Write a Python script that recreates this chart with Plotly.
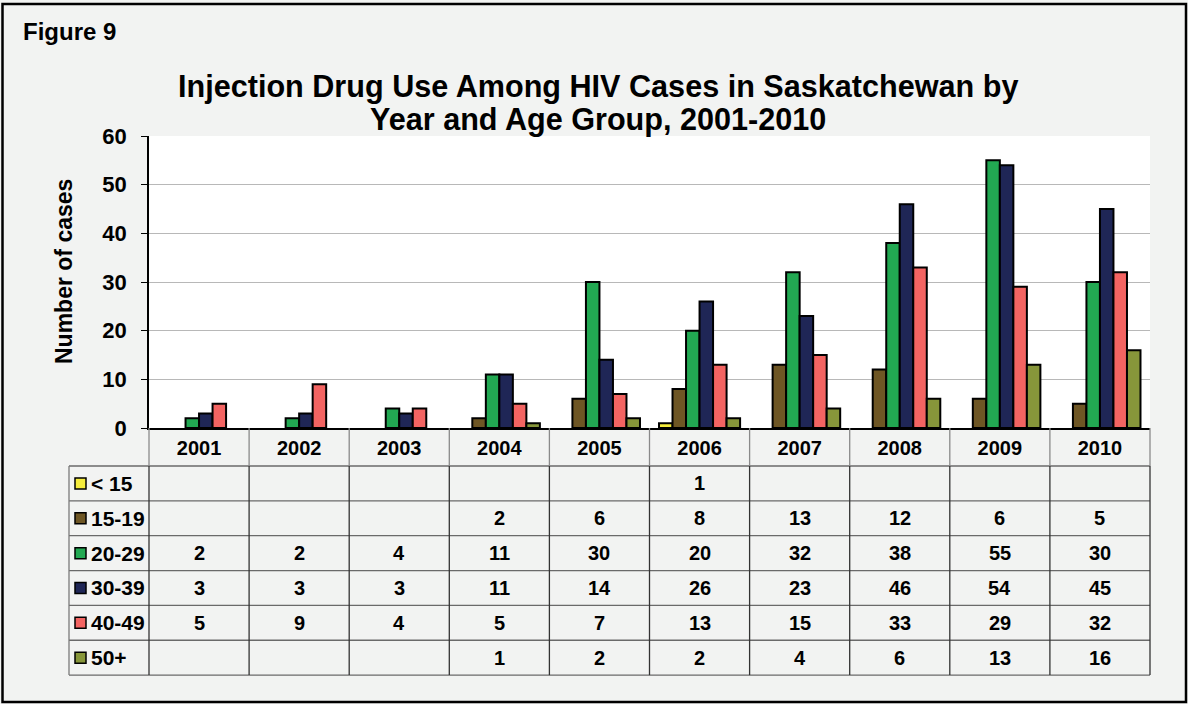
import plotly.graph_objects as go

# ---------------- data ----------------
years = ["2001", "2002", "2003", "2004", "2005", "2006", "2007", "2008", "2009", "2010"]
age_groups = ["< 15", "15-19", "20-29", "30-39", "40-49", "50+"]
lt15 = [None, None, None, None, None, 1, None, None, None, None]
a15_19 = [None, None, None, 2, 6, 8, 13, 12, 6, 5]
a20_29 = [2, 2, 4, 11, 30, 20, 32, 38, 55, 30]
a30_39 = [3, 3, 3, 11, 14, 26, 23, 46, 54, 45]
a40_49 = [5, 9, 4, 5, 7, 13, 15, 33, 29, 32]
a50p = [None, None, None, 1, 2, 2, 4, 6, 13, 16]
series = [lt15, a15_19, a20_29, a30_39, a40_49, a50p]
colors = ["#f5ec3c", "#6e5624", "#22a852", "#1f2656", "#f36462", "#87963a"]
y_ticks = [0, 10, 20, 30, 40, 50, 60]
title_lines = ["Injection Drug Use Among HIV Cases in Saskatchewan by",
               "Year and Age Group, 2001-2010"]

# ---------------- geometry helpers (pixels -> paper) ----------------
W, H = 1188, 704
L, R, T, B = 149, 1150, 136, 428
def px(x):
    return (x - L) / (R - L)
def py(y):
    return (B - y) / (B - T)

FONT = "Arial, 'Liberation Sans', sans-serif"

fig = go.Figure()
for name, vals, col in zip(age_groups, series, colors):
    fig.add_trace(go.Bar(
        x=years, y=vals, name=name,
        marker=dict(color=col, line=dict(color="black", width=2)),
        hoverinfo="skip",
    ))

shapes = []
annotations = []

# table geometry
row_top = 466
row_h = 34.85
n_rows = len(age_groups)
tab_left = 69
tab_bottom = row_top + row_h * n_rows
col_w = (R - L) / len(years)

# horizontal lines
for k in range(n_rows + 1):
    yy = row_top + row_h * k
    shapes.append(dict(type="line", xref="paper", yref="paper",
                       x0=px(tab_left), x1=px(R), y0=py(yy), y1=py(yy),
                       line=dict(color="#6a6a6a", width=1.3)))
# vertical lines
shapes.append(dict(type="line", xref="paper", yref="paper",
                   x0=px(tab_left), x1=px(tab_left), y0=py(row_top), y1=py(tab_bottom),
                   line=dict(color="#7a7a7a", width=1.3)))
for i in range(len(years) + 1):
    xx = L + col_w * i
    shapes.append(dict(type="line", xref="paper", yref="paper",
                       x0=px(xx), x1=px(xx), y0=py(B), y1=py(row_top),
                       line=dict(color="#8a8a8a", width=1.3)))
    shapes.append(dict(type="line", xref="paper", yref="paper",
                       x0=px(xx), x1=px(xx), y0=py(row_top), y1=py(tab_bottom),
                       line=dict(color="#333333", width=1.3)))

# legend swatches + labels + values
for k, (name, vals, col) in enumerate(zip(age_groups, series, colors)):
    yc = row_top + row_h * (k + 0.5)
    shapes.append(dict(type="rect", xref="paper", yref="paper",
                       x0=px(75), x1=px(86), y0=py(yc - 5.5), y1=py(yc + 5.5),
                       fillcolor=col, line=dict(color="black", width=1.5)))
    annotations.append(dict(text=name, xref="paper", yref="paper",
                            x=px(88.5), y=py(yc), xanchor="left", yanchor="middle",
                            showarrow=False,
                            font=dict(family=FONT, size=21, color="black", weight="bold")))
    for i, v in enumerate(vals):
        if v is None:
            continue
        annotations.append(dict(text=str(v), xref="x", yref="paper",
                                x=i, y=py(yc), xanchor="center", yanchor="middle",
                                showarrow=False,
                                font=dict(family=FONT, size=20, color="black", weight="bold")))

# chart title (two lines, positioned individually)
for line_text, ymid in zip(title_lines, [86, 119]):
    annotations.append(dict(text=line_text, xref="paper", yref="paper",
                            x=px(598), y=py(ymid), xanchor="center", yanchor="middle",
                            showarrow=False,
                            font=dict(family=FONT, size=30.6, color="black", weight="bold")))

# y axis title
annotations.append(dict(text="Number of cases", xref="paper", yref="paper",
                        x=px(64), y=py(272), textangle=-90,
                        xanchor="center", yanchor="middle", showarrow=False,
                        font=dict(family=FONT, size=23, color="black", weight="bold")))
# figure label
annotations.append(dict(text="Figure 9", xref="paper", yref="paper",
                        x=px(21), y=py(32), xanchor="left", yanchor="middle",
                        showarrow=False,
                        font=dict(family=FONT, size=24, color="black", weight="bold")))

# outer border
shapes.append(dict(type="rect", xref="paper", yref="paper",
                   x0=px(2.5), x1=px(1186), y0=py(4), y1=py(702),
                   line=dict(color="black", width=2.5), fillcolor="rgba(0,0,0,0)"))

fig.update_layout(
    width=W, height=H,
    margin=dict(l=L, r=W - R, t=T, b=H - B, autoexpand=False),
    paper_bgcolor="#f2f3f2",
    plot_bgcolor="white",
    barmode="group",
    bargap=0.19,
    bargroupgap=0,
    showlegend=False,
    shapes=shapes,
    annotations=annotations,
    xaxis=dict(
        type="category", range=[-0.5, len(years) - 0.5],
        showgrid=False, showline=True, linecolor="black", linewidth=1.5,
        ticks="", ticklabelstandoff=1,
        tickfont=dict(family=FONT, size=20, color="black", weight="bold"),
        fixedrange=True,
    ),
    yaxis=dict(
        range=[0, 60], tickvals=y_ticks, showgrid=True, gridcolor="#b8b8b8", gridwidth=1,
        showline=True, linecolor="black", linewidth=1.5,
        ticks="outside", ticklen=6, tickcolor="black", ticklabelstandoff=10,
        tickfont=dict(family=FONT, size=22, color="black", weight="bold"),
        zeroline=False, fixedrange=True,
    ),
)

fig.write_html("out.html", config={"displayModeBar": False},
               post_script="document.body.style.margin='0px';document.body.style.overflow='hidden';")
